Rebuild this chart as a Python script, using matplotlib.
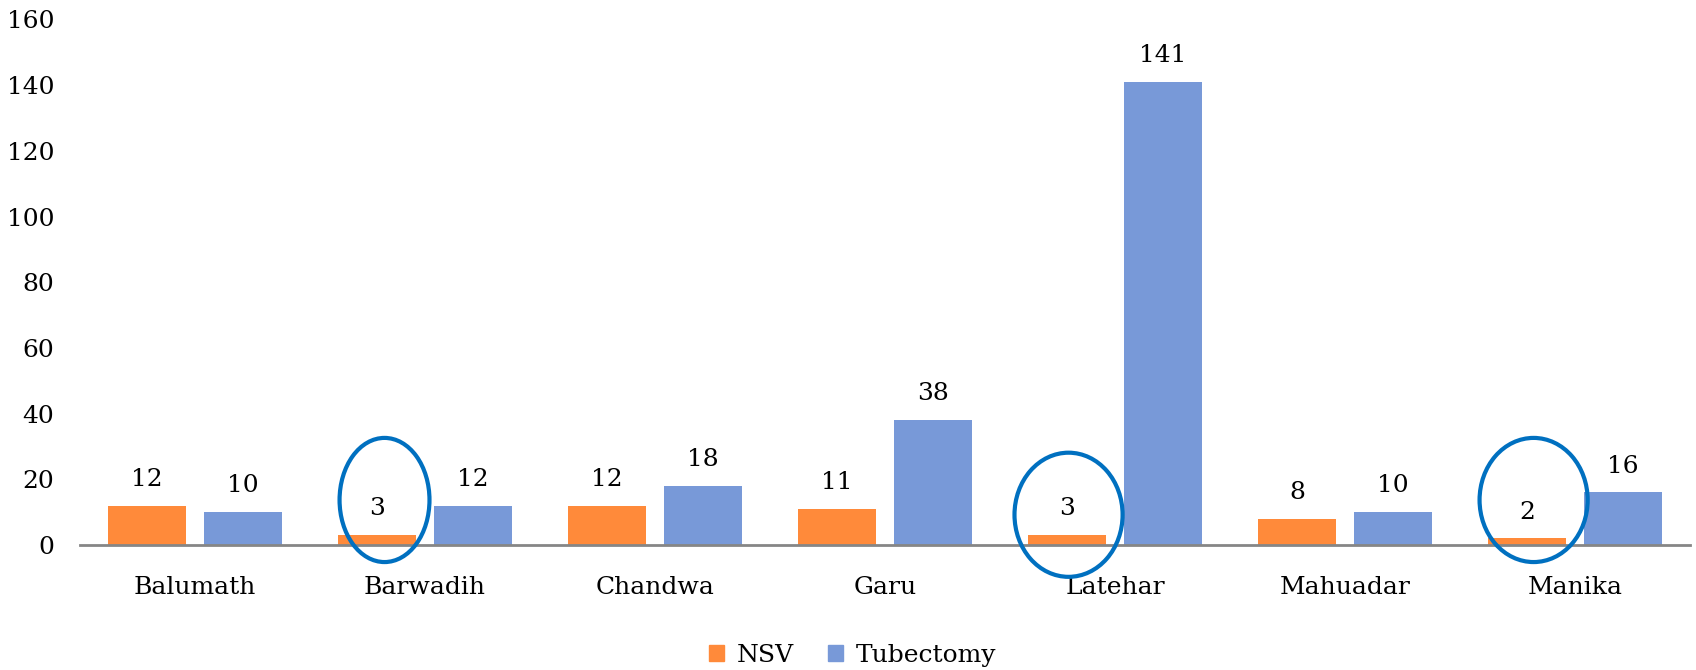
import numpy as np
import matplotlib
matplotlib.use('Agg')
import matplotlib.pyplot as plt
from matplotlib.patches import Ellipse, Patch

plt.rcParams['font.family'] = ['DejaVu Serif']
plt.rcParams['font.size'] = 18

blocks = ['Balumath', 'Barwadih', 'Chandwa', 'Garu', 'Latehar', 'Mahuadar', 'Manika']
nsv = [12, 3, 12, 11, 3, 8, 2]
tubectomy = [10, 12, 18, 38, 141, 10, 16]

# blocks whose NSV count is ringed: (index, x offset, y centre, width, height)
rings = [(1, -0.176, 13.7, 0.391, 37.8),
         (4, -0.202, 9.2, 0.47, 37.8),
         (6, -0.180, 13.7, 0.47, 37.8)]

orange = '#FF8A3A'
blue = '#7899D8'

fig = plt.figure(figsize=(16.96, 6.70), dpi=100)
ax = fig.add_axes([0.04717, 0.1866, 0.9493, 0.7843])

x = np.arange(len(blocks))
w = 0.335
off = 0.2087
b1 = ax.bar(x - off, nsv, w, color=orange, label='NSV')
b2 = ax.bar(x + off, tubectomy, w, color=blue, label='Tubectomy')

for bars, vals in [(b1, nsv), (b2, tubectomy)]:
    for b, v in zip(bars, vals):
        ax.annotate(str(v), (b.get_x() + b.get_width() / 2, v),
                    xytext=(0, 19), textcoords='offset points',
                    ha='center', va='center')

for i, dx, cy, ew, eh in rings:
    ax.add_patch(Ellipse((i + dx, cy), ew, eh, fill=False,
                         edgecolor='#0070C0', linewidth=3, clip_on=False, zorder=5))

ax.set_xlim(-0.5, 6.5)
ax.set_ylim(0, 160)
ax.set_yticks(range(0, 161, 20))
ax.set_xticks(x)
ax.set_xticklabels(blocks)
ax.tick_params(axis='x', length=0, pad=22.5)
ax.tick_params(axis='y', length=0, pad=18.7)

for s in ['top', 'right', 'left']:
    ax.spines[s].set_visible(False)
ax.spines['bottom'].set_color('#868686')
ax.spines['bottom'].set_linewidth(2)

handles = [Patch(color=orange, label='NSV'), Patch(color=blue, label='Tubectomy')]
fig.legend(handles=handles, loc='center', bbox_to_anchor=(0.5027, 0.0216), ncol=2,
           frameon=False, handlelength=0.6, handleheight=0.6,
           handletextpad=0.5, columnspacing=1.4)

fig.savefig('out.png', dpi=100)
